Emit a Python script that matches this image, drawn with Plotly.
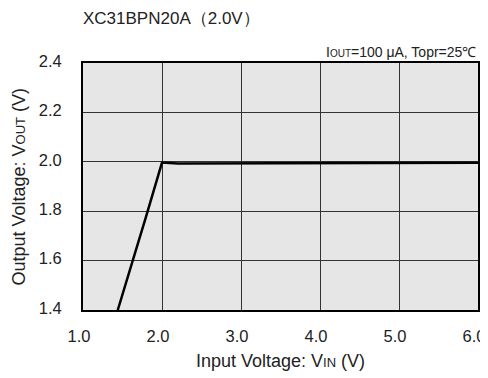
import plotly.graph_objects as go

vin = [1.44, 1.6, 1.8, 2.0, 2.05, 2.1, 2.2, 2.5, 3.0, 3.5, 4.0, 4.5, 5.0, 5.5, 6.0]
vout = [1.40, 1.565, 1.78, 1.997, 1.997, 1.995, 1.993, 1.993, 1.993, 1.993, 1.994, 1.995, 1.996, 1.996, 1.996]

xticks = [1.0, 2.0, 3.0, 4.0, 5.0, 6.0]
yticks = [1.4, 1.6, 1.8, 2.0, 2.2, 2.4]

font = "Liberation Sans, Arial, sans-serif"

# the page body has an 8px margin, so the figure is 480x370 drawn at (8, 8)
W, H = 480, 370
L, R, T, B = 75, 10, 55, 68
pw, ph = W - L - R, H - T - B

fig = go.Figure()
fig.add_trace(go.Scatter(x=vin, y=vout, mode="lines",
                         line=dict(color="black", width=2.5), showlegend=False))

fig.update_layout(
    width=W, height=H,
    margin=dict(l=L, r=R, t=T, b=B, autoexpand=False),
    paper_bgcolor="white", plot_bgcolor="#e6e6e6",
    font=dict(family=font, color="#222", size=16.5),
    title=dict(text="XC31BPN20A（2.0V）", x=L / W, xanchor="left",
               y=1 - 10 / H, yanchor="middle", font=dict(size=17, color="#222")),
)
fig.update_xaxes(range=[1.0, 6.0], tickvals=xticks,
                 ticktext=[f"{v:.1f}" for v in xticks],
                 showgrid=True, gridcolor="#333", gridwidth=1,
                 showline=True, linecolor="black", linewidth=2, mirror=True,
                 ticks="", zeroline=False, automargin=False,
                 ticklabelstandoff=10, ticklabelshift=-4)
fig.update_yaxes(range=[1.4, 2.4], tickvals=yticks,
                 ticktext=[f"{v:.1f}" for v in yticks],
                 showgrid=True, gridcolor="#333", gridwidth=1,
                 showline=True, linecolor="black", linewidth=2, mirror=True,
                 ticks="", zeroline=False, automargin=False,
                 ticklabelstandoff=16, ticklabelshift=-2)
fig.add_annotation(text="Input Voltage: V<span style='font-size:13px'>IN</span> (V)",
                   xref="paper", yref="paper", x=0.5, y=-(353 - (H - B)) / ph,
                   xanchor="center", yanchor="middle", showarrow=False,
                   font=dict(size=18, color="#222"))
fig.add_annotation(text="Output Voltage: V<span style='font-size:13px'>OUT</span> (V)",
                   xref="paper", yref="paper", x=-(L - 10) / pw, y=0.5, textangle=-90,
                   xanchor="center", yanchor="middle", showarrow=False,
                   font=dict(size=18, color="#222"))
fig.add_annotation(text="I<span style='font-size:10px'>OUT</span>=100 μA, Topr=25℃",
                   xref="paper", yref="paper", x=1, y=1, xanchor="right", yanchor="bottom",
                   yshift=1, showarrow=False, font=dict(size=14, color="#222"))

fig.write_html("out.html")
